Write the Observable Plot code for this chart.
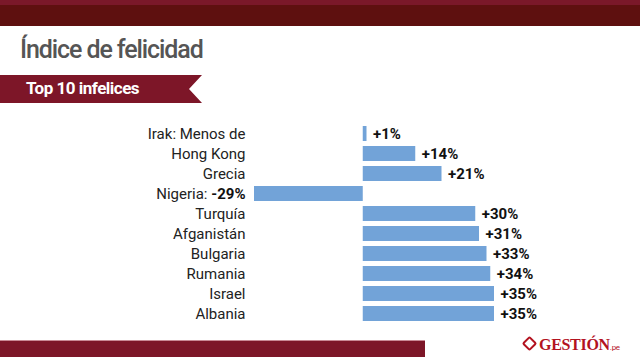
<!DOCTYPE html>
<html><head><meta charset="utf-8">
<script src="https://cdn.jsdelivr.net/npm/d3@7"></script>
<script src="https://cdn.jsdelivr.net/npm/@observablehq/plot@0.6"></script>
<style>
html,body{margin:0;padding:0;background:#fff;}
#wrap{position:relative;width:640px;height:357px;overflow:hidden;font-family:Roboto,"Open Sans",sans-serif;}
#topbar{position:absolute;left:0;top:0;width:640px;height:26px;background:#5e100f;border-top:5px solid #7a1829;box-sizing:border-box;}
#title{position:absolute;left:20px;top:35px;font-size:25px;font-weight:500;color:#555;letter-spacing:-1.1px;}
#ribbon{position:absolute;left:0;top:75px;width:202px;height:28px;background:#7d1628;clip-path:polygon(0 0,100% 0,189px 50%,100% 100%,0 100%);}
#sub{position:absolute;left:26px;top:78px;font-size:17px;font-weight:700;color:#fff;letter-spacing:-0.5px;}
#bottombar{position:absolute;left:0;top:340px;width:425px;height:17px;background:#7d1628;border-top:1px solid #c98a95;box-sizing:border-box;}
#logo{position:absolute;left:524px;top:336px;font-family:"Liberation Serif",serif;font-weight:700;color:#b3121f;font-size:16px;letter-spacing:-0.3px;}
#logo .pe{font-size:8px;font-family:Roboto,sans-serif;font-weight:400;}
#logo .ic{display:inline-block;width:11px;height:11px;border:2px solid #b3121f;box-sizing:border-box;transform:rotate(45deg);border-radius:2px;margin-right:4px;vertical-align:1px;}
#chart{position:absolute;left:0;top:110px;}
</style></head>
<body>
<div id="wrap">
  <div id="topbar"></div>
  <div id="title">Índice de felicidad</div>
  <div id="ribbon"></div>
  <div id="sub">Top 10 infelices</div>
  <div id="bottombar"></div>
  <div id="logo"><span class="ic"></span>GESTIÓN<span class="pe">.pe</span></div>
  <div id="chart"></div>
</div>
<script>
const countries = ["Irak: Menos de", "Hong Kong", "Grecia", "Nigeria:", "Turquía", "Afganistán", "Bulgaria", "Rumania", "Israel", "Albania"];
const values = [1, 14, 21, -29, 30, 31, 33, 34, 35, 35];
const valueLabels = ["+1%", "+14%", "+21%", "-29%", "+30%", "+31%", "+33%", "+34%", "+35%", "+35%"];

const data = countries.map((c, i) => ({country: c, value: values[i], label: valueLabels[i]}));
const pos = data.filter(d => d.value > 0);
const neg = data.filter(d => d.value < 0);

const chart = Plot.plot({
  width: 640,
  height: 230,
  marginLeft: 254,
  marginRight: 146,
  marginTop: 12,
  marginBottom: 15,
  style: {background: "transparent", fontFamily: "Roboto, sans-serif"},
  x: {domain: [-29, 35], axis: null},
  y: {domain: countries, axis: null, paddingInner: 0.26, paddingOuter: 0.13},
  marks: [
    Plot.barX(data, {x: "value", y: "country", fill: "#72a3d8"}),
    Plot.text(pos, {x: "value", y: "country", text: "label", textAnchor: "start", dx: 6, fontWeight: 700, fontSize: 15, fill: "#111"}),
    Plot.text(pos, {x: () => -29, y: "country", text: "country", textAnchor: "end", dx: -9, fontSize: 15, fill: "#222"}),
    Plot.text(neg, {x: () => -29, y: "country", text: "label", textAnchor: "end", dx: -9, fontSize: 15, fontWeight: 700, fill: "#111"}),
    Plot.text(neg, {x: () => -29, y: "country", text: "country", textAnchor: "end", dx: -47, fontSize: 15, fill: "#222"})
  ]
});
document.getElementById("chart").appendChild(chart);
</script>
</body></html>
